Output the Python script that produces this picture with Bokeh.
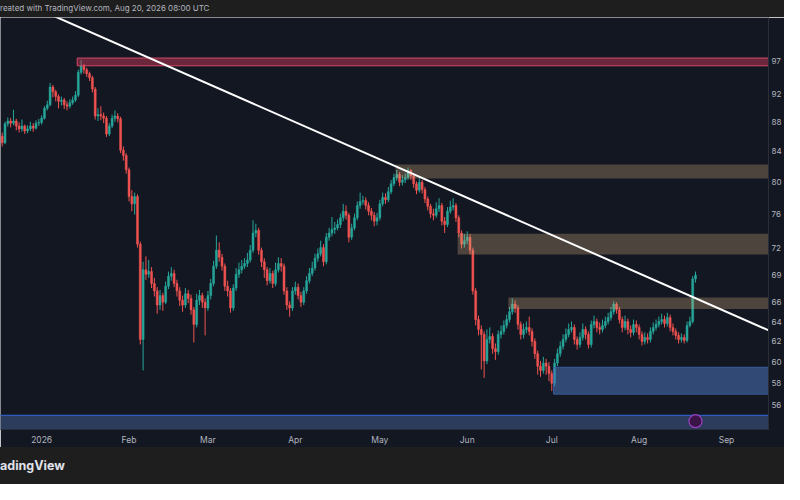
import pandas as pd
from bokeh.plotting import figure
from bokeh.models import Range1d, FixedTicker, PrintfTickFormatter, Div, ColumnDataSource
from bokeh.layouts import column
from bokeh.embed import file_html
from bokeh.resources import INLINE

# ---------------- data ----------------
start_date = "2025-12-18"

opens = [
    86.0, 85.1, 87.7, 88.1, 87.8, 88.1, 87.4, 87.0, 87.4, 86.7,
    87.0, 87.4, 87.1, 87.8, 87.9, 88.5, 89.9, 90.4, 93.0, 92.3,
    91.6, 90.9, 91.1, 90.4, 90.2, 90.7, 91.1, 91.8, 95.2, 96.2,
    95.6, 95.0, 94.4, 92.7, 88.8, 89.0, 88.8, 88.5, 86.3, 87.4,
    88.5, 88.8, 88.4, 84.1, 83.4, 81.5, 78.1, 77.2, 78.1, 72.4,
    62.2, 69.5, 69.0, 69.3, 68.0, 67.2, 65.7, 66.7, 66.0, 67.7,
    68.8, 69.1, 68.0, 67.2, 66.2, 65.7, 66.9, 66.4, 65.2, 63.7,
    66.2, 66.7, 66.0, 65.4, 66.7, 68.0, 69.9, 71.7, 70.9, 69.9,
    67.7, 67.2, 65.4, 67.5, 69.0, 69.5, 69.9, 70.2, 70.6, 71.7,
    73.7, 74.0, 71.7, 70.4, 69.5, 68.3, 69.1, 68.0, 69.5, 70.2,
    69.9, 67.2, 65.7, 65.4, 67.2, 67.6, 66.7, 66.0, 67.2, 68.3,
    69.1, 69.7, 70.8, 71.3, 72.0, 70.4, 73.2, 73.7, 74.1, 74.3,
    74.7, 75.5, 76.3, 75.8, 73.2, 74.3, 75.5, 77.0, 77.5, 77.6,
    77.0, 76.3, 75.8, 75.1, 75.5, 77.2, 78.0, 77.7, 78.7, 79.7,
    80.5, 80.9, 79.9, 80.2, 80.5, 81.4, 80.7, 79.7, 78.9, 79.9,
    79.0, 77.8, 76.9, 76.0, 75.8, 76.6, 77.0, 75.1, 74.7, 76.3,
    76.8, 77.0, 75.5, 73.7, 72.4, 72.8, 73.2, 71.7, 67.2, 64.2,
    63.2, 62.7, 60.1, 62.2, 62.5, 61.3, 61.0, 62.7, 63.0, 63.6,
    64.2, 65.0, 65.8, 65.4, 63.7, 62.7, 63.2, 63.4, 63.0, 62.0,
    60.8, 59.6, 59.2, 59.9, 59.6, 58.9, 58.0, 59.9, 60.8, 61.5,
    62.2, 62.7, 63.2, 63.4, 62.2, 61.7, 62.4, 63.2, 62.7, 61.7,
    63.7, 64.0, 63.4, 63.2, 63.6, 64.0, 64.4, 65.0, 65.8, 65.2,
    64.2, 63.4, 64.0, 63.2, 62.9, 63.7, 63.4, 62.7, 62.0, 62.4,
    62.2, 63.0, 63.4, 63.7, 64.0, 64.2, 63.8, 64.4, 63.4, 63.0,
    62.6, 62.2, 62.4, 62.1, 63.6, 64.0, 68.5,
]

highs = [
    86.5, 88.0, 88.6, 88.5, 89.7, 88.4, 87.9, 88.3, 87.6, 87.5,
    88.0, 87.8, 88.2, 88.4, 88.9, 90.2, 91.0, 93.6, 93.3, 92.6,
    91.9, 91.6, 91.4, 90.9, 91.2, 91.6, 92.4, 95.6, 97.1, 96.5,
    95.9, 95.3, 94.7, 93.0, 89.9, 90.2, 89.3, 88.8, 87.8, 89.0,
    89.6, 89.2, 88.7, 84.6, 83.7, 81.8, 78.9, 78.6, 78.4, 72.7,
    70.4, 71.0, 70.6, 69.8, 68.6, 67.6, 67.3, 67.0, 68.2, 69.3,
    69.8, 69.5, 68.4, 67.6, 66.7, 67.5, 67.3, 66.8, 65.5, 66.9,
    67.3, 67.0, 66.4, 67.2, 68.5, 70.5, 73.4, 72.6, 71.3, 70.2,
    68.3, 67.5, 67.9, 69.7, 70.3, 70.6, 70.8, 71.4, 72.3, 75.2,
    74.8, 74.3, 72.0, 70.8, 69.8, 69.7, 69.4, 70.3, 70.9, 70.8,
    70.2, 67.6, 66.1, 67.6, 68.2, 68.0, 67.1, 67.6, 68.8, 69.7,
    70.4, 71.3, 71.9, 72.8, 72.4, 73.7, 74.3, 75.6, 75.0, 75.3,
    76.0, 77.2, 77.0, 76.1, 74.8, 76.0, 77.5, 78.6, 78.2, 78.0,
    77.4, 76.7, 76.2, 76.1, 77.7, 78.6, 78.5, 79.3, 80.2, 81.0,
    81.5, 81.2, 80.8, 81.0, 81.8, 81.6, 81.0, 80.0, 80.4, 80.2,
    79.3, 78.1, 77.2, 76.6, 77.4, 77.9, 77.3, 75.6, 76.8, 77.6,
    77.9, 77.3, 75.8, 74.0, 73.6, 73.9, 73.6, 72.0, 67.5, 64.6,
    63.6, 63.0, 63.2, 63.4, 62.8, 61.8, 63.1, 63.6, 64.1, 64.7,
    65.5, 66.4, 66.2, 65.7, 64.0, 63.8, 64.0, 64.5, 63.3, 62.3,
    61.1, 60.1, 60.5, 60.3, 60.0, 59.2, 60.3, 61.3, 62.0, 62.7,
    63.3, 63.8, 64.0, 63.7, 62.5, 62.9, 63.8, 63.5, 63.0, 64.1,
    64.6, 64.3, 63.9, 64.2, 64.5, 64.9, 65.5, 66.1, 66.0, 65.5,
    64.5, 64.6, 64.3, 63.6, 64.2, 64.1, 63.7, 63.0, 62.9, 62.8,
    63.4, 63.9, 64.2, 64.5, 64.8, 64.6, 64.9, 64.7, 63.8, 63.3,
    62.9, 62.8, 62.7, 64.0, 64.5, 68.8, 69.3,
]

lows = [
    84.6, 84.9, 87.3, 87.2, 87.5, 86.8, 86.5, 86.6, 86.3, 86.4,
    86.7, 86.6, 86.9, 87.4, 87.6, 88.3, 89.6, 90.2, 91.5, 90.9,
    89.9, 90.3, 89.8, 89.6, 89.9, 90.4, 90.8, 91.5, 94.9, 95.0,
    94.5, 93.9, 92.2, 88.3, 88.1, 88.2, 87.8, 85.9, 86.0, 87.1,
    88.0, 87.9, 83.7, 82.7, 81.0, 77.5, 76.3, 75.9, 72.0, 61.7,
    59.2, 68.4, 68.6, 67.5, 66.6, 64.8, 65.2, 65.1, 65.8, 67.4,
    68.3, 67.6, 66.6, 65.6, 65.0, 65.4, 65.9, 64.7, 61.9, 63.4,
    65.7, 65.4, 62.6, 65.1, 66.3, 67.7, 69.6, 70.4, 69.4, 67.2,
    66.6, 64.9, 65.1, 67.2, 68.6, 69.1, 69.6, 69.8, 70.3, 71.4,
    73.2, 71.2, 69.8, 68.6, 67.8, 68.0, 67.5, 67.7, 69.2, 69.3,
    66.8, 65.2, 64.5, 65.1, 66.8, 66.3, 65.5, 65.7, 66.9, 68.0,
    68.8, 69.4, 70.4, 71.0, 69.9, 70.1, 72.8, 73.3, 73.6, 74.0,
    74.3, 75.1, 75.3, 72.6, 72.9, 74.0, 75.2, 76.6, 77.1, 76.5,
    75.8, 75.2, 74.5, 74.6, 75.2, 76.9, 77.2, 77.4, 78.4, 79.4,
    80.1, 79.4, 79.5, 79.8, 80.2, 80.2, 79.2, 78.4, 78.6, 78.5,
    77.3, 76.4, 75.5, 75.2, 75.5, 76.2, 74.6, 73.7, 74.4, 76.0,
    76.4, 75.0, 73.2, 71.9, 72.0, 72.4, 71.2, 66.8, 63.6, 62.6,
    59.3, 58.5, 59.8, 61.8, 60.8, 60.2, 60.7, 62.3, 62.7, 63.3,
    63.9, 64.7, 64.9, 63.2, 62.2, 62.3, 62.8, 62.6, 61.5, 60.3,
    58.8, 58.6, 58.9, 58.8, 58.2, 57.3, 57.7, 59.6, 60.5, 61.2,
    61.9, 62.4, 62.9, 61.7, 61.2, 61.4, 62.1, 62.2, 61.3, 61.4,
    63.3, 62.9, 62.7, 62.9, 63.3, 63.7, 64.1, 64.7, 64.8, 63.8,
    62.9, 63.1, 62.7, 62.4, 62.6, 62.9, 62.2, 61.6, 61.7, 61.8,
    61.9, 62.7, 63.1, 63.4, 63.7, 63.4, 63.5, 63.0, 62.6, 62.2,
    61.8, 61.9, 61.8, 61.9, 63.4, 63.8, 68.1,
]

closes = [
    85.1, 87.7, 88.1, 87.8, 88.1, 87.4, 87.0, 87.4, 86.7, 87.0,
    87.4, 87.1, 87.8, 87.9, 88.5, 89.9, 90.4, 93.0, 92.3, 91.6,
    90.9, 91.1, 90.4, 90.2, 90.7, 91.1, 91.8, 95.2, 96.2, 95.6,
    95.0, 94.4, 92.7, 88.8, 89.0, 88.8, 88.5, 86.3, 87.4, 88.5,
    88.8, 88.4, 84.1, 83.4, 81.5, 78.1, 77.2, 78.1, 72.4, 62.2,
    69.5, 69.0, 69.3, 68.0, 67.2, 65.7, 66.7, 66.0, 67.7, 68.8,
    69.1, 68.0, 67.2, 66.2, 65.7, 66.9, 66.4, 65.2, 63.7, 66.2,
    66.7, 66.0, 65.4, 66.7, 68.0, 69.9, 71.7, 70.9, 69.9, 67.7,
    67.2, 65.4, 67.5, 69.0, 69.5, 69.9, 70.2, 70.6, 71.7, 73.7,
    74.0, 71.7, 70.4, 69.5, 68.3, 69.1, 68.0, 69.5, 70.2, 69.9,
    67.2, 65.7, 65.4, 67.2, 67.6, 66.7, 66.0, 67.2, 68.3, 69.1,
    69.7, 70.8, 71.3, 72.0, 70.4, 73.2, 73.7, 74.1, 74.3, 74.7,
    75.5, 76.3, 75.8, 73.2, 74.3, 75.5, 77.0, 77.5, 77.6, 77.0,
    76.3, 75.8, 75.1, 75.5, 77.2, 78.0, 77.7, 78.7, 79.7, 80.5,
    80.9, 79.9, 80.2, 80.5, 81.4, 80.7, 79.7, 78.9, 79.9, 79.0,
    77.8, 76.9, 76.0, 75.8, 76.6, 77.0, 75.1, 74.7, 76.3, 76.8,
    77.0, 75.5, 73.7, 72.4, 72.8, 73.2, 71.7, 67.2, 64.2, 63.2,
    62.7, 60.1, 62.2, 62.5, 61.3, 61.0, 62.7, 63.0, 63.6, 64.2,
    65.0, 65.8, 65.4, 63.7, 62.7, 63.2, 63.4, 63.0, 62.0, 60.8,
    59.6, 59.2, 59.9, 59.6, 58.9, 58.0, 59.9, 60.8, 61.5, 62.2,
    62.7, 63.2, 63.4, 62.2, 61.7, 62.4, 63.2, 62.7, 61.7, 63.7,
    64.0, 63.4, 63.2, 63.6, 64.0, 64.4, 65.0, 65.8, 65.2, 64.2,
    63.4, 64.0, 63.2, 62.9, 63.7, 63.4, 62.7, 62.0, 62.4, 62.2,
    63.0, 63.4, 63.7, 64.0, 64.2, 63.8, 64.4, 63.4, 63.0, 62.6,
    62.2, 62.4, 62.1, 63.6, 64.0, 68.5, 68.9,
]

# supply / demand zones: start date, top price, bottom price
zone_starts = ["2026-01-14", "2026-05-07", "2026-05-29", "2026-06-16", "2026-07-02"]
zone_tops = [97.4, 82.2, 73.6, 66.5, 59.5]
zone_bottoms = [96.2, 80.4, 71.2, 65.3, 57.0]
zone_kinds = ["supply_red", "supply", "supply", "supply", "demand"]

band_top = 55.1
band_bottom = 50.0

# descending trendline anchors
trend_dates = ["2025-12-17", "2026-09-16"]
trend_prices = [108.2, 63.1]

price_ticks = [56, 58, 60, 62, 64, 66, 72, 76, 80, 84, 88, 92, 97]
last_price_text = "69"
month_dates = ["2026-01-01", "2026-02-01", "2026-03-01", "2026-04-01", "2026-05-01",
               "2026-06-01", "2026-07-01", "2026-08-01", "2026-09-01"]
month_labels = ["2026", "Feb", "Mar", "Apr", "May", "Jun", "Jul", "Aug", "Sep"]

header_text = "reated with TradingView.com, Aug 20, 2026 08:00 UTC"
logo_text = "adingView"

# ---------------- helpers ----------------
origin = pd.Timestamp("2026-01-01")
def to_day(d):
    return float((pd.Timestamp(d) - origin).days)

dates = pd.date_range(start_date, periods=len(closes), freq="D")
days = [float((d - origin).days) for d in dates]

UP = "#26a69a"
DOWN = "#ef5350"
BG = "#131722"
TXT = "#b2b5be"

up_idx = [i for i in range(len(closes)) if closes[i] >= opens[i]]
dn_idx = [i for i in range(len(closes)) if closes[i] < opens[i]]

def src(idx):
    return ColumnDataSource(dict(
        x=[days[i] for i in idx],
        top=[max(opens[i], closes[i]) for i in idx],
        bottom=[min(opens[i], closes[i]) for i in idx],
        high=[highs[i] for i in idx],
        low=[lows[i] for i in idx],
    ))

x_lo, x_hi = -14.6, 257.9
p = figure(width=784, height=430,
           x_range=Range1d(x_lo, x_hi), y_range=Range1d(53.88, 103.9),
           y_axis_type="log", y_axis_location="right",
           output_backend="svg", toolbar_location=None,
           background_fill_color=BG, border_fill_color=BG,
           min_border_left=0, min_border_top=0, min_border_bottom=18, min_border_right=0)
p.outline_line_color = None
p.xgrid.visible = False
p.ygrid.visible = False

# bottom band
p.quad(left=[x_lo - 20], right=[x_hi + 40], top=[band_top], bottom=[band_bottom],
       fill_color="#3f5b8c", fill_alpha=0.55, line_color=None)
p.segment(x0=[x_lo - 20], x1=[x_hi + 40], y0=[band_top], y1=[band_top],
          line_color="#2f5cc0", line_width=1.2)

# candles
for idx, col in ((up_idx, UP), (dn_idx, DOWN)):
    s = src(idx)
    p.segment(x0="x", x1="x", y0="low", y1="high", source=s, line_color=col, line_width=1)
    p.vbar(x="x", width=0.7, top="top", bottom="bottom", source=s,
           fill_color=col, line_color=col, line_width=0.5)

# zones
for st, tp, bt, kind in zip(zone_starts, zone_tops, zone_bottoms, zone_kinds):
    left = to_day(st) - 0.4
    if kind == "supply_red":
        p.quad(left=[left], right=[x_hi + 40], top=[tp], bottom=[bt],
               fill_color="#dc3c5f", fill_alpha=0.45, line_color="#d04868", line_width=1)
    elif kind == "supply":
        p.quad(left=[left], right=[x_hi + 40], top=[tp], bottom=[bt],
               fill_color="#d5b17d", fill_alpha=0.30, line_color=None)
    else:
        p.quad(left=[left], right=[x_hi + 40], top=[tp], bottom=[bt],
               fill_color="#4874b9", fill_alpha=0.55, line_color="#3a63a8", line_width=0.8)

# trendline
p.line(x=[to_day(d) for d in trend_dates], y=trend_prices, line_color="#ffffff", line_width=2)

# lightning icon circle near last candle
p.scatter(x=[days[-1]], y=[54.6], size=13, marker="circle",
          fill_color="#3a1446", line_color="#9c3fc0", line_width=1.2)

# axes
p.yaxis.ticker = FixedTicker(ticks=price_ticks + [closes[-1]])
p.yaxis.formatter = PrintfTickFormatter(format="%d")
p.yaxis.major_label_overrides = {closes[-1]: last_price_text}
p.yaxis.major_label_text_color = TXT
p.yaxis.major_label_text_font = "Inter"
p.yaxis.major_label_text_font_size = "8px"
p.yaxis.major_tick_line_color = None
p.yaxis.minor_tick_line_color = None
p.yaxis.major_tick_out = 0
p.yaxis.major_tick_in = 0
p.yaxis.minor_tick_out = 0
p.yaxis.minor_tick_in = 0
p.yaxis.axis_line_color = "#2a2e39"
p.yaxis.major_label_standoff = 3

month_days = [to_day(d) for d in month_dates]
p.xaxis.ticker = FixedTicker(ticks=month_days)
p.xaxis.major_label_overrides = {d: lab for d, lab in zip(month_days, month_labels)}
p.xaxis.major_label_text_color = TXT
p.xaxis.major_label_text_font = "Inter"
p.xaxis.major_label_text_font_size = "8.5px"
p.xaxis.major_tick_line_color = None
p.xaxis.minor_tick_line_color = None
p.xaxis.major_tick_out = 0
p.xaxis.major_tick_in = 0
p.xaxis.minor_tick_out = 0
p.xaxis.minor_tick_in = 0
p.xaxis.axis_line_color = "#2a2e39"
p.xaxis.major_label_standoff = 5

bar_css = [":host { background-color: #1e1e1e; margin: 0; padding: 0; }"]
top = Div(text=header_text, width=784, height=17, margin=0, stylesheets=bar_css,
          styles={"background-color": "#1e1e1e", "color": TXT, "font-family": "Inter, sans-serif",
                  "font-size": "8px", "line-height": "17px", "white-space": "nowrap",
                  "overflow": "hidden"})
bottom = Div(text=logo_text, width=784, height=37, margin=0, stylesheets=bar_css,
             styles={"background-color": "#1e1e1e", "color": "#e0e3eb", "font-family": "Inter, sans-serif",
                     "font-size": "12.5px", "font-weight": "bold", "line-height": "37px",
                     "white-space": "nowrap", "overflow": "hidden"})

layout = column(top, p, bottom, spacing=0)
open("out.html", "w").write(file_html(layout, INLINE))
